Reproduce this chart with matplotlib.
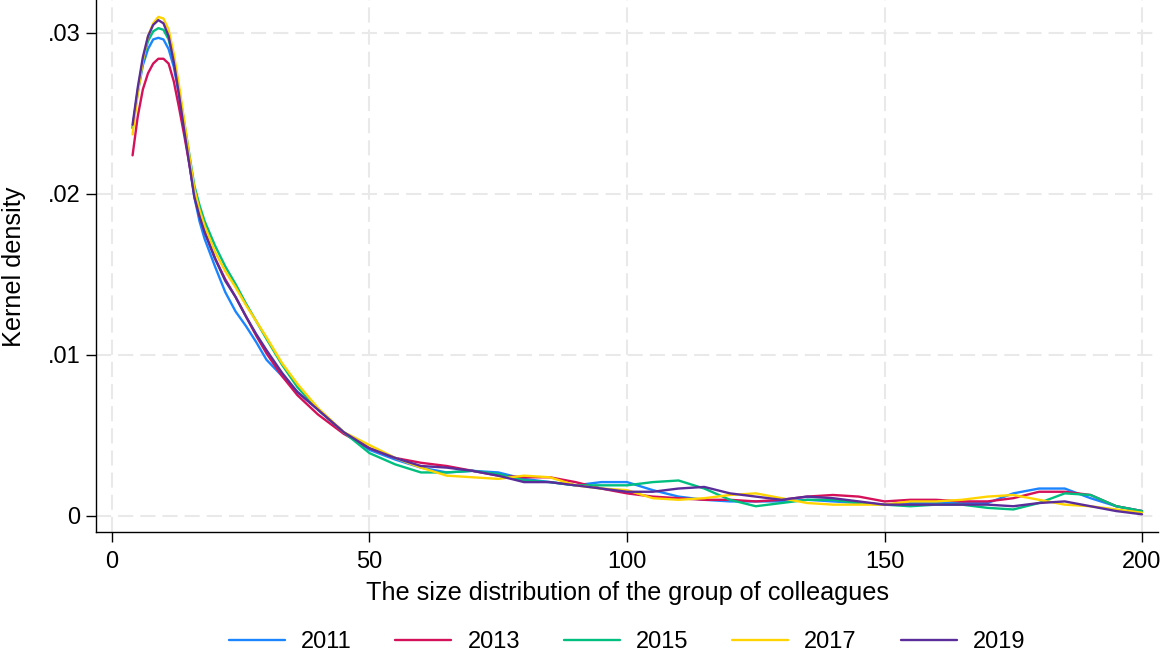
import matplotlib
matplotlib.use('Agg')
import matplotlib.pyplot as plt

# ── Data ──────────────────────────────────────────────────────
size = [4, 5, 6, 7, 8, 9, 10, 11, 12, 13, 14, 15, 16, 17, 18, 20, 22, 24, 26,
        28, 30, 33, 36, 40, 45, 50, 55, 60, 65, 70, 75, 80, 85, 90, 95, 100,
        105, 110, 115, 120, 125, 130, 135, 140, 145, 150, 155, 160, 165, 170,
        175, 180, 185, 190, 195, 200]

dens_2011 = [0.0241, 0.0263, 0.0280, 0.0290, 0.0296, 0.0297, 0.0296, 0.0290,
             0.0279, 0.0262, 0.0242, 0.0220, 0.0198, 0.0183, 0.0172, 0.0155,
             0.0139, 0.0127, 0.0118, 0.0108, 0.0097, 0.0087, 0.0077, 0.0066,
             0.0052, 0.0041, 0.0035, 0.0030, 0.0027, 0.0028, 0.0027, 0.0023,
             0.0021, 0.0019, 0.0021, 0.0021, 0.0016, 0.0012, 0.0010, 0.0009,
             0.0009, 0.0009, 0.0010, 0.0009, 0.0008, 0.0007, 0.0008, 0.0008,
             0.0008, 0.0008, 0.0014, 0.0017, 0.0017, 0.0011, 0.0006, 0.0003]

dens_2013 = [0.0224, 0.0248, 0.0265, 0.0275, 0.0281, 0.0284, 0.0284, 0.0281,
             0.0270, 0.0254, 0.0237, 0.0219, 0.0200, 0.0187, 0.0177, 0.0160,
             0.0147, 0.0136, 0.0124, 0.0112, 0.0101, 0.0087, 0.0075, 0.0063,
             0.0051, 0.0042, 0.0036, 0.0033, 0.0031, 0.0028, 0.0025, 0.0024,
             0.0024, 0.0021, 0.0017, 0.0014, 0.0012, 0.0011, 0.0010, 0.0010,
             0.0009, 0.0010, 0.0012, 0.0013, 0.0012, 0.0009, 0.0010, 0.0010,
             0.0009, 0.0009, 0.0011, 0.0015, 0.0015, 0.0013, 0.0006, 0.0003]

dens_2015 = [0.0241, 0.0264, 0.0283, 0.0295, 0.0301, 0.0303, 0.0302, 0.0296,
             0.0283, 0.0265, 0.0245, 0.0225, 0.0205, 0.0193, 0.0183, 0.0168,
             0.0155, 0.0144, 0.0132, 0.0121, 0.0110, 0.0094, 0.0080, 0.0066,
             0.0052, 0.0039, 0.0032, 0.0027, 0.0027, 0.0028, 0.0026, 0.0022,
             0.0021, 0.0019, 0.0019, 0.0019, 0.0021, 0.0022, 0.0017, 0.0010,
             0.0006, 0.0008, 0.0010, 0.0010, 0.0008, 0.0007, 0.0006, 0.0007,
             0.0007, 0.0005, 0.0004, 0.0008, 0.0014, 0.0013, 0.0006, 0.0003]

dens_2017 = [0.0237, 0.0262, 0.0283, 0.0298, 0.0306, 0.0310, 0.0309, 0.0302,
             0.0287, 0.0268, 0.0246, 0.0224, 0.0203, 0.0190, 0.0180, 0.0164,
             0.0152, 0.0142, 0.0131, 0.0121, 0.0111, 0.0095, 0.0082, 0.0067,
             0.0052, 0.0044, 0.0036, 0.0030, 0.0025, 0.0024, 0.0023, 0.0025,
             0.0024, 0.0019, 0.0017, 0.0016, 0.0011, 0.0010, 0.0011, 0.0013,
             0.0014, 0.0011, 0.0008, 0.0007, 0.0007, 0.0007, 0.0009, 0.0009,
             0.0010, 0.0012, 0.0013, 0.0010, 0.0007, 0.0006, 0.0004, 0.0002]

dens_2019 = [0.0243, 0.0266, 0.0285, 0.0298, 0.0305, 0.0308, 0.0306, 0.0298,
             0.0282, 0.0262, 0.0240, 0.0219, 0.0198, 0.0186, 0.0176, 0.0160,
             0.0146, 0.0136, 0.0124, 0.0113, 0.0103, 0.0089, 0.0077, 0.0066,
             0.0052, 0.0042, 0.0036, 0.0031, 0.0030, 0.0028, 0.0025, 0.0021,
             0.0021, 0.0019, 0.0017, 0.0015, 0.0015, 0.0017, 0.0018, 0.0014,
             0.0012, 0.0010, 0.0012, 0.0011, 0.0009, 0.0007, 0.0007, 0.0007,
             0.0007, 0.0007, 0.0006, 0.0008, 0.0009, 0.0006, 0.0003, 0.0001]

years  = ['2011', '2013', '2015', '2017', '2019']
series = [dens_2011, dens_2013, dens_2015, dens_2017, dens_2019]
colors = ['#1a85ff', '#d41159', '#00bf7f', '#ffd400', '#5a2d9a']

x_ticks = [0, 50, 100, 150, 200]
y_ticks = [0, 0.01, 0.02, 0.03]
y_tick_labels = ['0', '.01', '.02', '.03']

# ── Style ─────────────────────────────────────────────────────
plt.rcParams.update({
    'font.family': ['Liberation Sans', 'DejaVu Sans'],
    'font.size': 17,
})

fig = plt.figure(figsize=(11.64, 6.61), dpi=100)
ax = fig.add_axes([96 / 1164, 129 / 661, 1062 / 1164, 532 / 661])

for yr, vals, c in zip(years, series, colors):
    ax.plot(size, vals, color=c, lw=1.7, label=yr, zorder=3,
            solid_joinstyle='round', solid_capstyle='round')

# ── Axes ──────────────────────────────────────────────────────
ax.set_xlim(-3.1, 203.1)
ax.set_ylim(-0.001, 0.03205)
ax.set_xticks(x_ticks)
ax.set_yticks(y_ticks)
ax.set_yticklabels(y_tick_labels)

ax.grid(True, color='#e9e9e9', lw=1.45, ls=(0, (7.5, 3.5)), zorder=0)
ax.set_axisbelow(True)

for side in ('top', 'right'):
    ax.spines[side].set_visible(False)
for side in ('left', 'bottom'):
    ax.spines[side].set_linewidth(1.0)
    ax.spines[side].set_color('black')

ax.tick_params(axis='both', direction='out', length=7.2, width=1.0,
               labelsize=17, colors='black')
ax.tick_params(axis='x', pad=6.5)
ax.tick_params(axis='y', pad=4)

fig.text(627 / 1164, 1 - 593 / 661,
         'The size distribution of the group of colleagues',
         ha='center', va='center', fontsize=18.2)
fig.text(14 / 1164, 1 - 267 / 661, 'Kernel density',
         rotation=90, ha='center', va='center', fontsize=18.2)

# ── Legend ────────────────────────────────────────────────────
fig.legend(loc='center', bbox_to_anchor=(627 / 1164, 1 - 642 / 661),
           ncol=5, frameon=False, fontsize=17, handlelength=2.37,
           handletextpad=0.68, columnspacing=1.86)

fig.savefig('out.png', dpi=100)
plt.close(fig)
